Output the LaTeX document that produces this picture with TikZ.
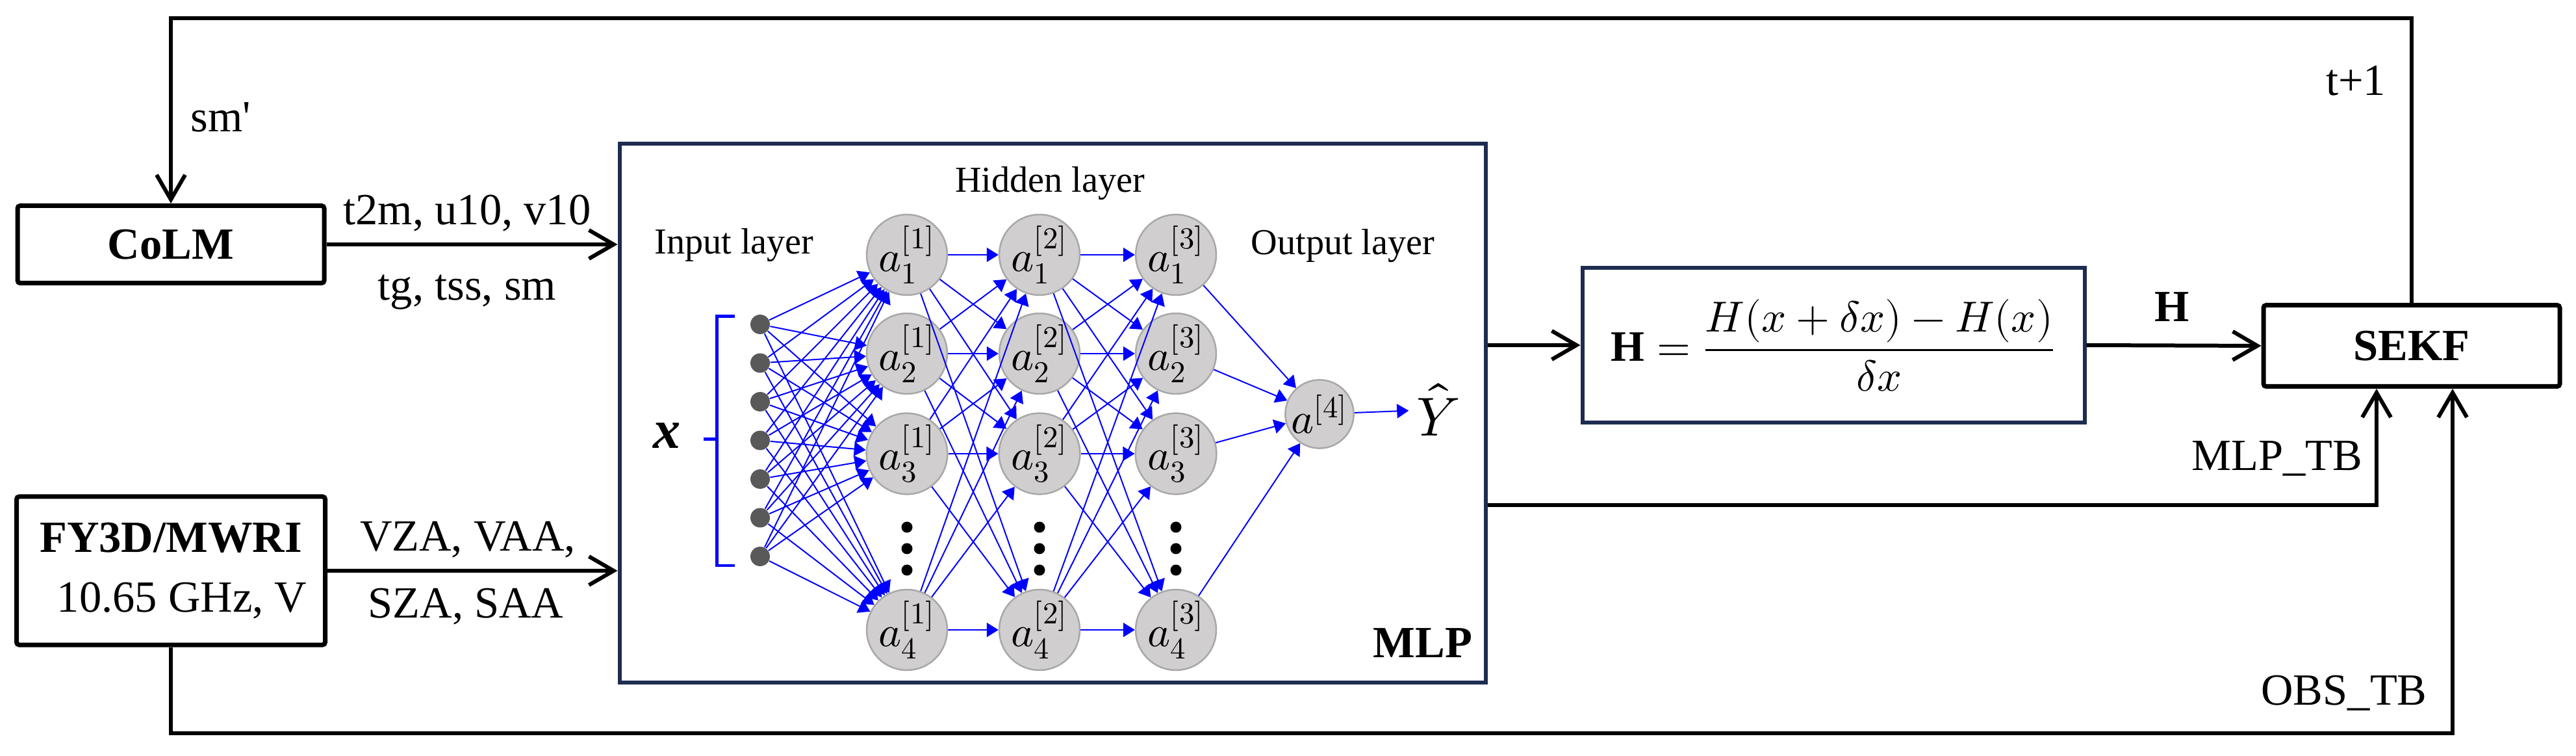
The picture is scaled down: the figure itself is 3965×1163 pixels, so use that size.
\documentclass[tikz,border=0pt]{standalone}
\usepackage{amsmath}
\usepackage{fontspec}
\usepackage{unicode-math}
\setmainfont{Liberation Serif}
\setmathfont{Latin Modern Math}
\usepackage{tikz}
\usetikzlibrary{arrows.meta, positioning}

\definecolor{navy}{RGB}{29,44,80}
\definecolor{nfill}{RGB}{208,206,206}
\definecolor{nedge}{RGB}{168,168,168}
\definecolor{dotgray}{RGB}{89,89,89}
\definecolor{netblue}{RGB}{0,0,255}

\newcommand{\lbl}{\fontsize{19.5}{26}\selectfont}
\newcommand{\lay}{\fontsize{16}{19}\selectfont}

\tikzset{
    blk/.style={draw, line width=0.7mm, rounded corners=0.4mm, align=center, font=\lbl},
    navybox/.style={draw=navy, line width=0.6mm},
    conn/.style={line width=0.6mm, -{Straight Barb[length=3.8mm, width=4.4mm]}},
    neuron/.style={circle, draw=nedge, fill=nfill, line width=0.25mm, minimum size=10mm, inner sep=0pt, font=\fontsize{19}{22}\selectfont},
    inunit/.style={circle, fill=dotgray, minimum size=3mm, inner sep=0pt},
    syn/.style={draw=netblue, line width=0.2mm, -{Triangle[length=1.8mm, width=2.2mm]}},
}

\begin{document}
\begin{tikzpicture}[x=0.1mm, y=-0.1mm]
            \useasboundingbox (0,0) rectangle (3965,1163);

            % Draw the blocks
            \node[blk, minimum width=47.2mm, minimum height=11.9mm, font=\lbl\bfseries] (colm) at (263,376) {CoLM};
            \node[blk, minimum width=47.5mm, minimum height=22.8mm] (fy) at (263,878) {\textbf{FY3D/MWRI}\\ \hspace*{0.5em}10.65 GHz, V};
            \node[blk, minimum width=45.6mm, minimum height=12.5mm, font=\lbl\bfseries] (sekf) at (3712,532) {SEKF};
            \node[navybox, minimum width=133.3mm, minimum height=82.9mm] (mlp) at (1620,636) {};
            \node[navybox, minimum width=77.3mm, minimum height=23.8mm, font=\fontsize{19}{23}\selectfont] (hbox) at (2822,531) {$\mathbf{H}=\dfrac{H(x+\delta x)-H(x)}{\delta x}$};

            % Draw the network inside the MLP block
            \foreach \k in {1,...,7} {
                \node[inunit] (in\k) at (1170, {499+59.5*(\k-1)}) {};
            }

            \foreach \l/\xx in {1/1396, 2/1600, 3/1810} {
                \foreach \i/\yy in {1/392, 2/544, 3/698, 4/969} {
                    \node[neuron] (h\l-\i) at (\xx,\yy) {$a^{[\l]}_{\i}$};
                }
                \foreach \d in {811, 844, 877} {
                    \fill (\xx,\d) circle[radius=0.85mm];
                }
            }

            \node[neuron] (out) at (2031,637) {$a^{[4]}$};
            \node[font=\fontsize{24}{28}\selectfont] (yhat) at (2214,630) {$\hat{Y}$};

            \foreach \k in {1,...,7} {
                \foreach \j in {1,...,4} {
                    \draw[syn] (in\k) -- (h1-\j);
                }
            }
            \foreach \i in {1,...,4} {
                \foreach \j in {1,...,4} {
                    \draw[syn] (h1-\i) -- (h2-\j);
                    \draw[syn] (h2-\i) -- (h3-\j);
                }
                \draw[syn] (h3-\i) -- (out);
            }
            \draw[syn] (out) -- (yhat);

            % Draw the bracket for the input vector
            \draw[netblue, line width=0.5mm] (1131,487) -- (1103,487) -- (1103,870) -- (1131,870);
            \draw[netblue, line width=0.5mm] (1083,676) -- (1103,676);
            \node[font=\fontsize{24}{28}\selectfont\bfseries\itshape] (xvec) at (1027,670) {x};

            \node[font=\lay] (inlbl) at (1130,377) {Input layer};
            \node[font=\lay] (hidlbl) at (1616,282) {Hidden layer};
            \node[font=\lay] (outlbl) at (2067,378) {Output layer};
            \node[font=\lbl\bfseries] (mlplbl) at (2190,989) {MLP};

            % Draw the connectors between the blocks
            \coordinate (top) at (0,28);
            \coordinate (bot) at (0,1128);
            \coordinate (tbline) at (0,777);

            \draw[conn] (sekf.north) -- (sekf.north |- top) -| (colm.north);
            \draw[conn] (colm.east) -- (colm.east -| mlp.west);
            \draw[conn] (fy.east) -- (fy.east -| mlp.west);
            \draw[conn] (mlp.east |- hbox.west) -- (hbox.west);
            \draw[conn] (hbox.east) -- (sekf.west);
            \draw[conn] (mlp.east |- tbline) -| ([xshift=-5.4mm]sekf.south);
            \draw[conn] (fy.south) -- (fy.south |- bot) -| ([xshift=6.3mm]sekf.south);

            % Connector labels
            \node[font=\lbl] (smlbl) at (340,180) {sm\textquotesingle};
            \node[font=\lbl] (tlbl) at (3626,124) {t+1};
            \node[font=\lbl] (colmup) at (719,328) {t2m, u10, v10};
            \node[font=\lbl] (colmdn) at (719,450) {tg, tss, sm};
            \node[font=\lbl] (fyup) at (720,830) {VZA, VAA,};
            \node[font=\lbl] (fydn) at (717,933) {SZA, SAA};
            \node[font=\lbl\bfseries] (hlbl) at (3343,472) {H};
            \node[font=\lbl] (mlptb) at (3505,705) {MLP\_TB};
            \node[font=\lbl] (obstb) at (3608,1066) {OBS\_TB};
\end{tikzpicture}
\end{document}
